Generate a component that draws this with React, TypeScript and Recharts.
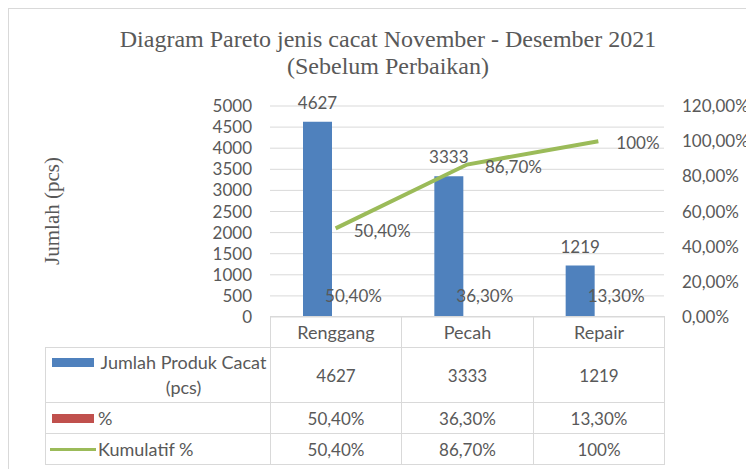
import React from "react";
import {
  Bar,
  CartesianGrid,
  ComposedChart,
  LabelList,
  Line,
  XAxis,
  YAxis
} from "recharts";

const categories = ["Renggang", "Pecah", "Repair"];
const defectCounts = [4627, 3333, 1219];
const percentValues = [0.504, 0.363, 0.133];
const cumulativeValues = [0.504, 0.867, 1];
const countTicks = [0, 500, 1000, 1500, 2000, 2500, 3000, 3500, 4000, 4500, 5000];
const percentTicks = [0, 0.2, 0.4, 0.6, 0.8, 1, 1.2];

const BLUE = "#4F81BD";
const RED = "#C0504D";
const GREEN = "#9BBB59";
const GRID = "#D9D9D9";
const TEXT = "#595959";
const FONT = "Lato, 'Open Sans', sans-serif";

const chartData = categories.map((name, i) => ({
  name,
  count: defectCounts[i],
  pct: percentValues[i],
  cum: cumulativeValues[i]
}));

const fmtPct = (v: number) =>
  v === 1 ? "100%" : (v * 100).toFixed(2).replace(".", ",") + "%";
const fmtAxisPct = (v: number) => (v * 100).toFixed(2).replace(".", ",") + "%";

const CumLabel = (props: any) => {
  const { x, y, value } = props;
  return (
    <text
      x={x + 18}
      y={y + 4}
      fill={TEXT}
      fontSize={17}
      fontFamily={FONT}
      dominantBaseline="middle"
    >
      {fmtPct(value)}
    </text>
  );
};

const cell: React.CSSProperties = {
  border: `1px solid ${GRID}`,
  textAlign: "center",
  padding: 0,
  color: TEXT
};

export default function App() {
  return (
    <div
      style={{
        position: "relative",
        width: 746,
        height: 461,
        overflow: "hidden",
        background: "#fff",
        fontFamily: FONT,
        color: TEXT
      }}
    >
      <div
        style={{
          position: "absolute",
          left: 0,
          top: 0,
          right: 0,
          bottom: 0,
          borderTop: `1px solid ${GRID}`,
          borderLeft: `1px solid ${GRID}`
        }}
      />
      <div
        style={{
          position: "absolute",
          left: 14,
          width: 732,
          top: 18,
          textAlign: "center",
          fontFamily: "'Liberation Serif', serif",
          fontSize: 24,
          lineHeight: "27px"
        }}
      >
        Diagram Pareto jenis cacat November - Desember 2021
        <br />
        (Sebelum Perbaikan)
      </div>
      <div
        style={{
          position: "absolute",
          left: 44,
          top: 203,
          transform: "translate(-50%, -50%) rotate(-90deg)",
          whiteSpace: "nowrap",
          fontFamily: "'Liberation Serif', serif",
          fontSize: 21
        }}
      >
        Jumlah (pcs)
      </div>

      <div style={{ position: "absolute", left: 0, top: 0 }}>
        <ComposedChart
          width={746}
          height={330}
          data={chartData}
          margin={{ top: 98, right: 30, left: 202, bottom: 21 }}
          barSize={29}
          barGap={7}
        >
          <CartesianGrid yAxisId="left" vertical={false} stroke={GRID} />
          <XAxis dataKey="name" hide />
          <YAxis
            yAxisId="left"
            domain={[0, 5000]}
            ticks={countTicks}
            width={60}
            axisLine={false}
            tickLine={false}
            tickSize={0}
            tickMargin={18}
            tick={{ fill: TEXT, fontSize: 17, fontFamily: FONT }}
            interval={0}
          />
          <YAxis
            yAxisId="right"
            orientation="right"
            domain={[0, 1.2]}
            ticks={percentTicks}
            tickFormatter={fmtAxisPct}
            width={60}
            axisLine={false}
            tickLine={false}
            tickSize={0}
            tickMargin={18}
            tick={{ fill: TEXT, fontSize: 17, fontFamily: FONT, textAnchor: "start" }}
            interval={0}
          />
          <Bar yAxisId="left" dataKey="count" fill={BLUE} isAnimationActive={false}>
            <LabelList
              dataKey="count"
              position="top"
              offset={13}
              fill={TEXT}
              fontSize={17}
              fontFamily={FONT}
            />
          </Bar>
          <Bar yAxisId="left" dataKey="pct" fill={RED} isAnimationActive={false}>
            <LabelList
              dataKey="pct"
              position="top"
              offset={15}
              formatter={(v: any) => fmtPct(Number(v))}
              fill={TEXT}
              fontSize={17}
              fontFamily={FONT}
            />
          </Bar>
          <Line
            yAxisId="right"
            dataKey="cum"
            stroke={GREEN}
            strokeWidth={4}
            dot={false}
            isAnimationActive={false}
          >
            <LabelList dataKey="cum" content={CumLabel} />
          </Line>
        </ComposedChart>
      </div>

      <table
        style={{
          position: "absolute",
          left: 37,
          top: 308,
          borderCollapse: "collapse",
          tableLayout: "fixed",
          fontSize: 17,
          fontFamily: FONT
        }}
      >
        <colgroup>
          <col style={{ width: 225 }} />
          <col style={{ width: 131 }} />
          <col style={{ width: 132 }} />
          <col style={{ width: 131 }} />
        </colgroup>
        <tbody>
          <tr style={{ height: 31 }}>
            <td style={{ border: "none" }} />
            {categories.map((c) => (
              <td key={c} style={{ ...cell, fontSize: 18 }}>
                {c}
              </td>
            ))}
          </tr>
          <tr style={{ height: 55 }}>
            <td style={{ ...cell, textAlign: "left", fontSize: 18 }}>
              <div style={{ display: "flex", alignItems: "flex-start", paddingLeft: 6 }}>
                <span
                  style={{
                    display: "inline-block",
                    width: 42,
                    height: 9,
                    background: BLUE,
                    marginTop: 8,
                    marginRight: 3,
                    flex: "none"
                  }}
                />
                <span style={{ flex: 1, textAlign: "center", lineHeight: "25px" }}>
                  Jumlah Produk Cacat (pcs)
                </span>
              </div>
            </td>
            {defectCounts.map((v, i) => (
              <td key={i} style={cell}>
                {v}
              </td>
            ))}
          </tr>
          <tr style={{ height: 31 }}>
            <td style={{ ...cell, textAlign: "left", fontSize: 18 }}>
              <div style={{ display: "flex", alignItems: "center", paddingLeft: 6 }}>
                <span
                  style={{
                    display: "inline-block",
                    width: 42,
                    height: 9,
                    background: RED,
                    marginRight: 4
                  }}
                />
                <span>%</span>
              </div>
            </td>
            {percentValues.map((v, i) => (
              <td key={i} style={cell}>
                {fmtPct(v)}
              </td>
            ))}
          </tr>
          <tr style={{ height: 31 }}>
            <td style={{ ...cell, textAlign: "left", fontSize: 18 }}>
              <div style={{ display: "flex", alignItems: "center", paddingLeft: 4 }}>
                <span
                  style={{
                    display: "inline-block",
                    width: 46,
                    height: 3,
                    background: GREEN,
                    marginRight: 2
                  }}
                />
                <span>Kumulatif %</span>
              </div>
            </td>
            {cumulativeValues.map((v, i) => (
              <td key={i} style={cell}>
                {fmtPct(v)}
              </td>
            ))}
          </tr>
        </tbody>
      </table>
    </div>
  );
}
